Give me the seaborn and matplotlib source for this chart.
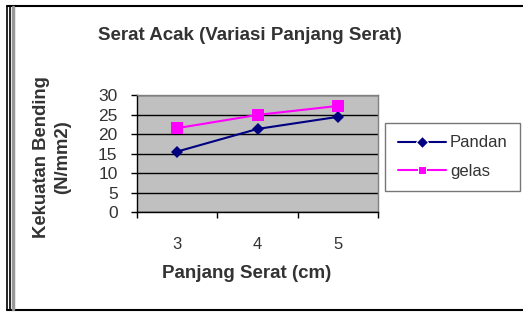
import pandas as pd
import seaborn as sns
import matplotlib.pyplot as plt
from matplotlib.lines import Line2D

# data
panjang = ['3', '4', '5']
pandan = [15.5, 21.3, 24.4]
gelas = [21.5, 24.9, 27.2]

df = pd.DataFrame({
    'panjang': panjang * 2,
    'kekuatan': pandan + gelas,
    'serat': ['Pandan'] * 3 + ['gelas'] * 3,
})

sns.set_style('white')
plt.rcParams['font.family'] = ['Liberation Sans', 'DejaVu Sans']

fig = plt.figure(figsize=(5.23, 3.12), dpi=100)
ax = fig.add_axes([0.262, 0.3205, 0.461, 0.375])
ax.set_facecolor('#c0c0c0')

sns.lineplot(data=df, x='panjang', y='kekuatan', hue='serat', style='serat',
             palette={'Pandan': '#000080', 'gelas': '#ff00ff'},
             markers={'Pandan': 'D', 'gelas': 's'},
             dashes=False, linewidth=1.5, ax=ax)
for line, ms in zip(ax.lines, [6.5, 8.5]):
    line.set_markersize(ms)
    line.set_markeredgewidth(0)

ax.set_xlim(-0.5, 2.5)
ax.set_ylim(0, 30)
ax.set_yticks(range(0, 31, 5))
ax.yaxis.grid(True, color='black', linewidth=1)
ax.set_axisbelow(True)
ax.set_xticks([-0.5, 0.5, 1.5, 2.5])
ax.set_xticklabels([])
ax.set_xticks([0, 1, 2], minor=True)
ax.set_xticklabels(panjang, minor=True)
ax.tick_params(axis='x', which='major', direction='out', length=4, width=1, color='black', bottom=True)
ax.tick_params(axis='x', which='minor', length=0, pad=18, labelsize=12, labelcolor='#333333')
ax.tick_params(axis='y', direction='out', length=4, width=1, color='black', left=True,
               pad=10, labelsize=12.5, labelcolor='#333333')
ax.set_xlabel('')
ax.set_ylabel('')
for s in ['left', 'bottom']:
    ax.spines[s].set_color('black')
    ax.spines[s].set_linewidth(1)
for s in ['top', 'right']:
    ax.spines[s].set_color('#808080')
    ax.spines[s].set_linewidth(1)

handles, labels = ax.get_legend_handles_labels()
ax.legend(handles, labels, loc='upper left', bbox_to_anchor=(385 / 523, 1 - 123 / 312),
          bbox_transform=fig.transFigure, frameon=True, fancybox=False,
          edgecolor='#555555', fontsize=12, handlelength=2.9, handletextpad=0.25,
          labelspacing=0.8, borderpad=0.75, borderaxespad=0)
leg = ax.get_legend()
leg.get_frame().set_linewidth(1)
for t in leg.get_texts():
    t.set_color('#333333')

fig.text(250 / 523, 1 - 35 / 312, 'Serat Acak (Variasi Panjang Serat)', ha='center', va='center',
         fontsize=13.5, fontweight='bold', color='#333333')
fig.text(52 / 523, 1 - 157 / 312, 'Kekuatan Bending\n(N/mm2)', ha='center', va='center',
         rotation=90, multialignment='center', fontsize=13.3, fontweight='bold',
         color='#333333', linespacing=1.25)
fig.text(247 / 523, 1 - 273 / 312, 'Panjang Serat (cm)', ha='center', va='center',
         fontsize=13.5, fontweight='bold', color='#333333')

# outer frame
W, H = 523, 312
fig.add_artist(Line2D([7 / W, 1], [1 - 6 / H] * 2, color='black', linewidth=1.5))
fig.add_artist(Line2D([7 / W, 1], [1 - 310 / H] * 2, color='black', linewidth=1.5))
fig.add_artist(Line2D([7 / W] * 2, [1 - 310 / H, 1 - 6 / H], color='black', linewidth=1.2))
fig.add_artist(Line2D([10 / W] * 2, [1 - 310 / H, 1 - 6 / H], color='black', linewidth=1.2))
fig.add_artist(Line2D([12.5 / W] * 2, [1 - 309 / H, 1 - 7 / H], color='#999999', linewidth=2.5))

fig.savefig('out.png', dpi=100)
